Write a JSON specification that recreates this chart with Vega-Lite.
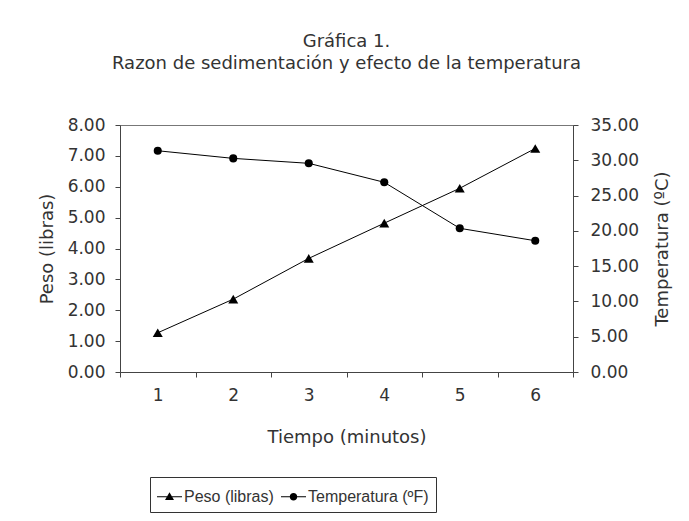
{
  "$schema": "https://vega.github.io/schema/vega-lite/v6.json",
  "width": 453,
  "height": 247,
  "autosize": {"type": "none"},
  "padding": {"left": 120, "top": 125, "right": 116, "bottom": 149},
  "background": "white",
  "config": {
    "font": "DejaVu Sans",
    "view": {"stroke": "#777", "strokeWidth": 1},
    "axis": {
      "labelFont": "DejaVu Sans", "labelFontSize": 17, "labelColor": "#333",
      "titleFont": "DejaVu Sans", "titleFontSize": 18, "titleFontWeight": "normal", "titleColor": "#333",
      "domainColor": "#444", "tickColor": "#444", "grid": false, "tickSize": 5
    },
    "legend": {
      "orient": "none", "legendX": 30, "legendY": 352, "direction": "horizontal",
      "strokeColor": "#333", "padding": 7, "labelFont": "Liberation Sans", "labelFontSize": 16, "labelColor": "#333",
      "symbolSize": 625, "symbolStrokeWidth": 0, "symbolFillColor": "black",
      "symbolOpacity": 1, "columnPadding": 7, "labelOffset": 2, "title": null
    }
  },
  "title": {
    "text": ["Gráfica 1.", "Razon de sedimentación y efecto de la temperatura"],
    "font": "DejaVu Sans", "fontSize": 18, "fontWeight": "normal", "color": "#333",
    "lineHeight": 22, "offset": 43, "anchor": "middle"
  },
  "data": {"values": [
    {"tiempo": 1, "peso": 1.27, "temp": 31.35},
    {"tiempo": 2, "peso": 2.36, "temp": 30.27},
    {"tiempo": 3, "peso": 3.68, "temp": 29.57},
    {"tiempo": 4, "peso": 4.82, "temp": 26.88},
    {"tiempo": 5, "peso": 5.95, "temp": 20.36},
    {"tiempo": 6, "peso": 7.24, "temp": 18.6}
  ]},
  "encoding": {
    "x": {"field": "tiempo", "type": "ordinal",
      "scale": {"type": "band", "paddingInner": 0, "paddingOuter": 0},
      "axis": {"title": "Tiempo (minutos)", "labelAngle": 0, "tickBand": "extent", "labelPadding": 10, "titlePadding": 25}}
  },
  "layer": [
    {
      "encoding": {
        "y": {"field": "peso", "type": "quantitative", "scale": {"domain": [0, 8]},
          "axis": {"orient": "left", "title": "Peso (libras)", "values": [0,1,2,3,4,5,6,7,8], "format": ".2f", "labelPadding": 10, "titlePadding": 11}}
      },
      "layer": [
        {"mark": {"type": "line", "color": "black", "strokeWidth": 1}},
        {"mark": {"type": "point", "shape": "triangle-up", "filled": true, "color": "black", "size": 100, "opacity": 1}},
        {"mark": {"type": "point", "filled": true, "color": "black", "opacity": 0},
          "encoding": {"shape": {"datum": "Peso (libras)",
            "scale": {"domain": ["Peso (libras)", "Temperatura (ºF)"],
              "range": ["M-1,-0.04L1,-0.04L1,0.04L-1,0.04ZM0,-0.36L0.36,0.26L-0.36,0.26Z", "M-1,-0.04L1,-0.04L1,0.04L-1,0.04ZM0.3,0A0.3,0.3,0,1,1,-0.3,0A0.3,0.3,0,1,1,0.3,0Z"]},
            "legend": {"encode": {"symbols": {"fill": {"value": "black"}, "opacity": {"value": 1}, "fillOpacity": {"value": 1}}}}}}}
      ]
    },
    {
      "encoding": {
        "y": {"field": "temp", "type": "quantitative", "scale": {"domain": [0, 35]},
          "axis": {"orient": "right", "title": "Temperatura (ºC)", "values": [0,5,10,15,20,25,30,35], "format": ".2f", "labelPadding": 12, "titlePadding": 15, "titleAngle": 270, "titleBaseline": "top"}}
      },
      "layer": [
        {"mark": {"type": "line", "color": "black", "strokeWidth": 1}},
        {"mark": {"type": "point", "shape": "circle", "filled": true, "color": "black", "size": 65, "opacity": 1}},
        {"mark": {"type": "point", "filled": true, "color": "black", "opacity": 0},
          "encoding": {"shape": {"datum": "Temperatura (ºF)"}}}
      ]
    }
  ],
  "resolve": {"scale": {"y": "independent"}}
}
